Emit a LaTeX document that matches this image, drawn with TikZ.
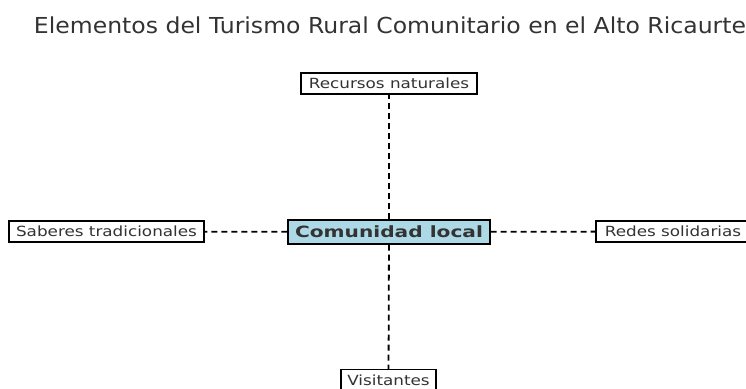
\documentclass[tikz,border=0pt]{standalone}
\usepackage{fontspec}
\usepackage{graphicx}
\setmainfont{DejaVu Sans}
\usetikzlibrary{arrows}
\newcommand{\wide}[2][1.2]{\scalebox{#1}[1]{#2}}

\begin{document}
\begin{tikzpicture}[x=1pt,y=-1pt,
  elem/.style={draw,line width=1.2pt,fill=white,inner sep=0pt,minimum height=21pt,text=black!80,font=\fontsize{14}{16}\selectfont},
  core/.style={elem,minimum height=24pt,font=\fontsize{15.5}{18}\selectfont\bfseries},
  link/.style={line width=1.8pt,dash pattern=on 6pt off 4pt}]
\useasboundingbox (0,0) rectangle (746,388);
\node[anchor=base,text=black!80,font=\fontsize{22}{24}\selectfont] (title) at (390,33) {\wide[1.07]{Elementos del Turismo Rural Comunitario en el Alto Ricaurte}};
\node[core,minimum width=202pt,fill={rgb,255:red,173;green,216;blue,230}] (c) at (389,232) {\wide[1.3]{Comunidad local}};
\node[elem,minimum width=176pt] (n) at (389,83.5) {\wide{Recursos naturales}};
\node[elem,minimum width=195pt] (w) at (106.5,231.5) {\wide{Saberes tradicionales}};
\node[elem,minimum width=154pt] (e) at (673,231.5) {\wide{Redes solidarias}};
\node[elem,minimum width=95pt] (s) at (388.5,380) {\wide{Visitantes}};
\draw[link] (c) edge (n);
\draw[link] (c) edge (w);
\draw[link] (c) edge (e);
\draw[link] (c) edge (s);
\end{tikzpicture}
\end{document}
